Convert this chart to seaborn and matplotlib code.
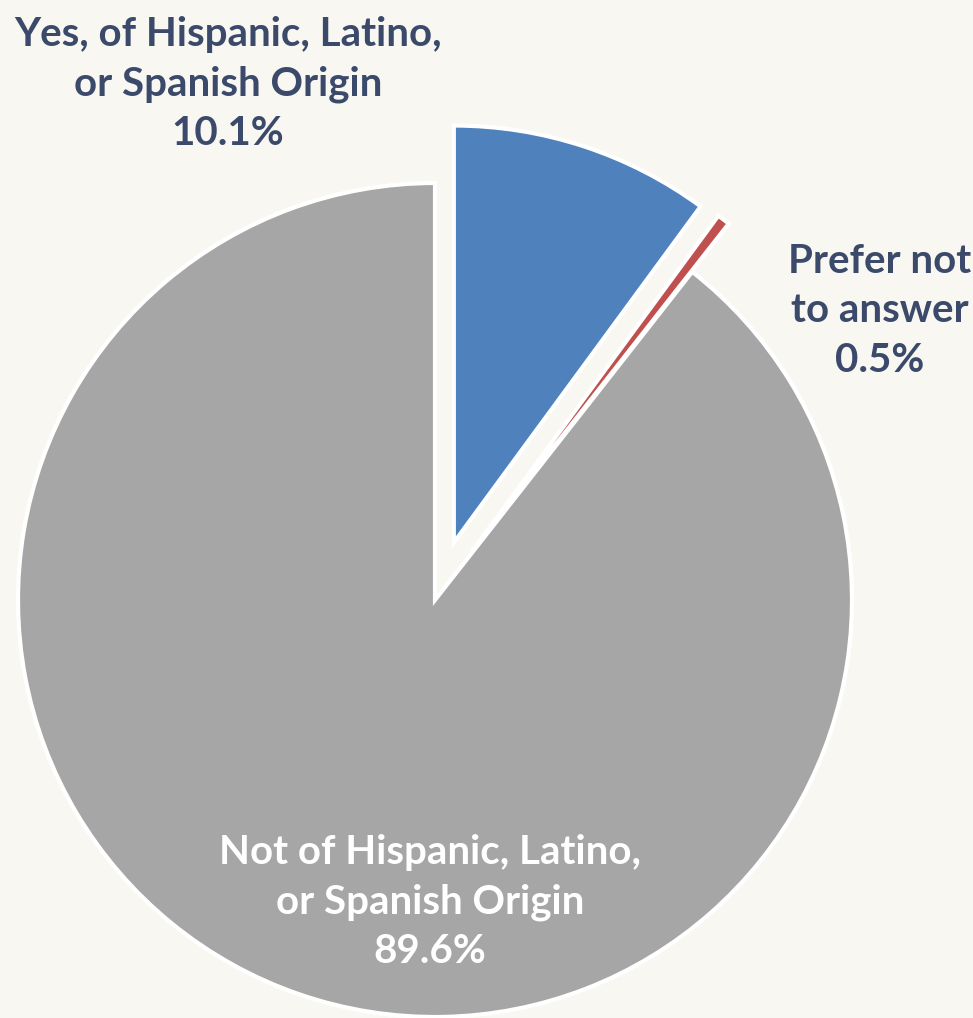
import matplotlib
matplotlib.use("Agg")
import matplotlib.pyplot as plt
import seaborn as sns

labels = ["Yes, of Hispanic, Latino,\nor Spanish Origin",
          "Prefer not\nto answer",
          "Not of Hispanic, Latino,\nor Spanish Origin"]
shares = [10.1, 0.5, 89.6]
colors = ["#4F81BD", "#C0504D", "#A6A6A6"]
explode = [0.145, 0.145, 0.0]

sns.set_theme(style="white")
plt.rcParams["font.family"] = ["Lato", "DejaVu Sans"]

bg = "#F8F7F1"
W, H, dpi = 973, 1018, 100
fig = plt.figure(figsize=(W / dpi, H / dpi), dpi=dpi, facecolor=bg)
ax = fig.add_axes([0, 0, 1, 1])
ax.set_facecolor(bg)

# pie geometry in pixel units: centre and radius
cx, cy, R = 435, 600, 417

ax.pie(shares, colors=colors, explode=explode, startangle=90,
       counterclock=False, radius=1.0,
       wedgeprops=dict(edgecolor="white", linewidth=3, joinstyle="miter"))
ax.set_xlim(-cx / R, (W - cx) / R)
ax.set_ylim((cy - H) / R, cy / R)
ax.set_aspect("equal")
ax.axis("off")


def px(x, y):
    return (x - cx) / R, (cy - y) / R


navy = "#3B4A6B"
text_pos = [(228, 84), (880, 311), (430, 902)]
text_col = [navy, navy, "white"]
for lab, val, (x, y), c in zip(labels, shares, text_pos, text_col):
    ax.text(*px(x, y), f"{lab}\n{val:.1f}%", ha="center", va="center",
            fontsize=29, fontweight="bold", color=c, linespacing=1.42)

fig.savefig("out.png", dpi=dpi, facecolor=bg)
